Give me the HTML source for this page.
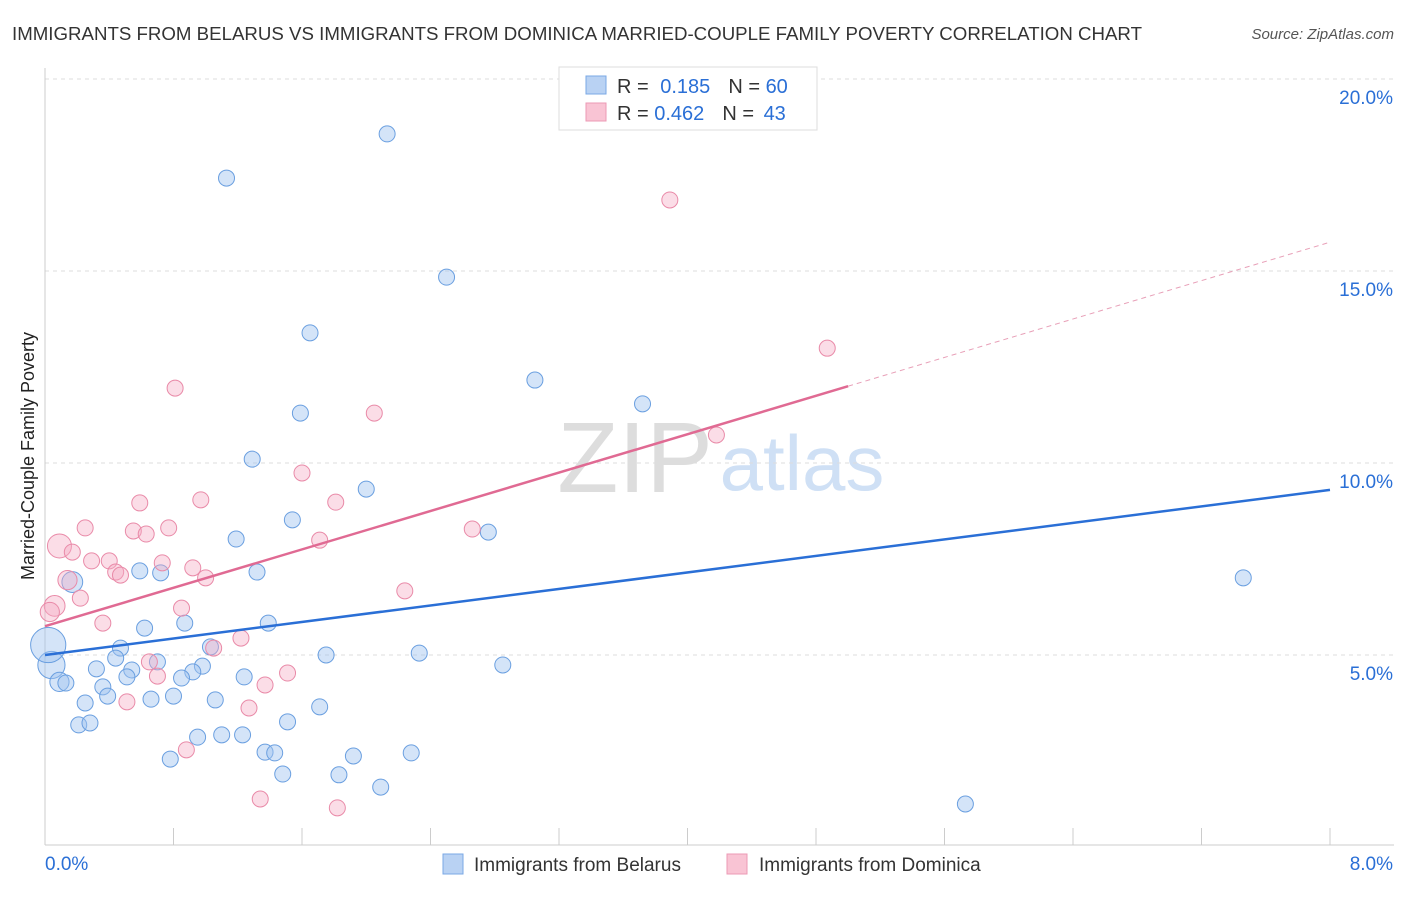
<!DOCTYPE html>
<html><head><meta charset="utf-8"><style>
body{margin:0;background:#fff;font-family:"Liberation Sans",sans-serif}
svg text{font-family:"Liberation Sans",sans-serif}
</style></head><body>
<svg id="chart" width="1406" height="892" xmlns="http://www.w3.org/2000/svg">
<text x="12" y="40" font-size="18" fill="#333" textLength="1130" lengthAdjust="spacingAndGlyphs">IMMIGRANTS FROM BELARUS VS IMMIGRANTS FROM DOMINICA MARRIED-COUPLE FAMILY POVERTY CORRELATION CHART</text>
<text x="1394" y="39" font-size="15" fill="#555" font-style="italic" text-anchor="end">Source: ZipAtlas.com</text>
<text x="34" y="456" font-size="18" fill="#222" text-anchor="middle" transform="rotate(-90 34 456)">Married-Couple Family Poverty</text>
<text x="635" y="492" font-size="100" fill="#ddd" font-family="Liberation Serif" text-anchor="middle">ZIP</text>
<text x="802" y="490" font-size="78" fill="#cfe0f5" text-anchor="middle">atlas</text>
<g id="grid"></g><g id="marks"></g><g id="trends"></g>
<g>
<rect x="559" y="67" width="258" height="63" fill="#fff" stroke="#ddd"/>
<rect x="586" y="76" width="20" height="18" fill="#b9d2f3" stroke="#7aa8e6"/>
<rect x="586" y="103" width="20" height="18" fill="#f9c4d4" stroke="#ec9ab5"/>
<text x="617" y="93" font-size="20" fill="#333">R = <tspan fill="#2a6fd6" dx="6">0.185</tspan><tspan dx="18" fill="#333">N = </tspan><tspan fill="#2a6fd6">60</tspan></text>
<text x="617" y="120" font-size="20" fill="#333">R = <tspan fill="#2a6fd6">0.462</tspan><tspan dx="18" fill="#333">N = </tspan><tspan fill="#2a6fd6" dx="4">43</tspan></text>
</g>
<g>
<rect x="443" y="854" width="20" height="20" fill="#b9d2f3" stroke="#7aa8e6"/>
<text x="474" y="871" font-size="19" fill="#333">Immigrants from Belarus</text>
<rect x="727" y="854" width="20" height="20" fill="#f9c4d4" stroke="#ec9ab5"/>
<text x="759" y="871" font-size="19" fill="#333">Immigrants from Dominica</text>
</g>
</svg>
<script>
const yTicks=[5,10,15,20];
const xTickLabels=["0.0%","8.0%"];
const belX=[2.13,1.13,2.50,1.65,3.05,3.72,1.59,1.29,2.00,1.54,2.76,1.19,7.46,0.59,0.72,1.32,0.17,0.87,1.39,0.62,0.47,1.03,0.44,0.70,1.75,2.33,2.85,0.32,0.98,0.92,0.54,1.24,0.85,0.51,0.04,0.02,0.09,0.13,0.36,0.39,0.66,0.80,1.06,0.25,1.71,1.51,0.21,0.28,0.95,1.10,1.23,1.37,1.43,1.92,2.28,0.78,1.48,1.83,2.09,5.73];
const belY=[18.57,17.42,14.84,13.39,12.16,11.54,11.30,10.10,9.32,8.52,8.20,8.02,7.01,7.19,7.14,7.16,6.90,5.83,5.83,5.70,5.18,5.21,4.92,4.82,5.00,5.05,4.74,4.64,4.71,4.56,4.61,4.43,4.40,4.43,4.74,5.26,4.30,4.27,4.17,3.93,3.85,3.93,3.83,3.75,3.65,3.26,3.18,3.23,2.86,2.92,2.92,2.47,2.45,2.37,2.45,2.29,1.90,1.88,1.56,1.12];
const belSize=[1,1,1,1,1,1,1,1,1,1,1,1,1,1,1,1,1.3,1,1,1,1,1,1,1,1,1,1,1,1,1,1,1,1,1,1.7,2.2,1.2,1,1,1,1,1,1,1,1,1,1,1,1,1,1,1,1,1,1,1,1,1,1,1];
const domX=[3.89,4.87,0.81,2.05,4.18,1.60,0.59,0.97,1.81,0.25,0.77,0.55,0.63,2.66,1.71,0.09,0.17,0.29,0.40,0.73,0.92,0.44,0.47,1.00,0.14,2.24,0.22,0.06,0.03,0.85,0.36,1.22,1.05,0.65,0.70,1.51,1.37,0.51,1.27,0.88,1.34,1.82];
const domY=[16.85,12.99,11.95,11.30,10.73,9.74,8.96,9.04,8.98,8.31,8.31,8.23,8.15,8.28,7.99,7.84,7.68,7.45,7.45,7.40,7.27,7.16,7.08,7.01,6.95,6.67,6.48,6.28,6.12,6.22,5.83,5.44,5.18,4.82,4.45,4.53,4.22,3.78,3.62,2.53,1.25,1.02];
const domSize=[1,1,1,1,1,1,1,1,1,1,1,1,1,1,1,1.5,1,1,1,1,1,1,1,1,1.2,1,1,1.3,1.2,1,1,1,1,1,1,1,1,1,1,1,1,1];
const belTrend=[[0,5.0],[8,9.3]];
const domTrend=[[0,5.75],[5.0,12.0],[8,15.75]];
const X=v=>45+v/8*1285, Y=v=>847-v*38.4;
const NS="http://www.w3.org/2000/svg";
function mk(t,a,p){const e=document.createElementNS(NS,t);for(const k in a)e.setAttribute(k,a[k]);p.appendChild(e);return e;}
const g=document.getElementById('grid');
mk('line',{x1:45,x2:1394,y1:79,y2:79,stroke:'#ddd','stroke-dasharray':'4,4'},g);
yTicks.forEach(t=>{
 const l=mk('line',{x1:45,x2:1394,y1:Y(t),y2:Y(t),stroke:'#ddd','stroke-dasharray':'4,4'},g);
 
 
 const tx=mk('text',{x:1393,y:Y(t)+25,'font-size':19,fill:'#2a6fd6','text-anchor':'end'},g);
 tx.textContent=t.toFixed(1)+'%';
 
 
});
mk('line',{x1:45,x2:45,y1:68,y2:845,stroke:'#ccc'},g);
mk('line',{x1:45,x2:1394,y1:845,y2:845,stroke:'#ccc'},g);
for(let i=0;i<=10;i++){const x=X(i*0.8);mk('line',{x1:x,x2:x,y1:828,y2:845,stroke:'#ccc'},g);}
xTickLabels.forEach((s,i)=>{
 const t=mk('text',{x:i?1393:45,y:870,'font-size':19,fill:'#2a6fd6','text-anchor':i?'end':'start'},g);
 t.textContent=s;
 
 
});
const m=document.getElementById('marks');
belX.forEach((v,i)=>{
 const c=mk('circle',{cx:X(v),cy:Y(belY[i]),r:8*belSize[i],fill:'rgba(160,195,240,0.45)',stroke:'#6a9fe0','stroke-width':1},m);
 
 
});
domX.forEach((v,i)=>{
 const c=mk('circle',{cx:X(v),cy:Y(domY[i]),r:8*domSize[i],fill:'rgba(245,170,195,0.4)',stroke:'#e98aa8','stroke-width':1},m);
 
 
});
const tr=document.getElementById('trends');
const bl=mk('line',{x1:X(belTrend[0][0]),y1:Y(belTrend[0][1]),x2:X(belTrend[1][0]),y2:Y(belTrend[1][1]),stroke:'#2a6fd6','stroke-width':2.5},tr);


const dl=mk('line',{x1:X(domTrend[0][0]),y1:Y(domTrend[0][1]),x2:X(domTrend[1][0]),y2:Y(domTrend[1][1]),stroke:'#e06a93','stroke-width':2.5},tr);


const dd=mk('line',{x1:X(domTrend[1][0]),y1:Y(domTrend[1][1]),x2:X(domTrend[2][0]),y2:Y(domTrend[2][1]),stroke:'#e8a0b8','stroke-width':1,'stroke-dasharray':'5,4'},tr);


</script>
</body></html>
